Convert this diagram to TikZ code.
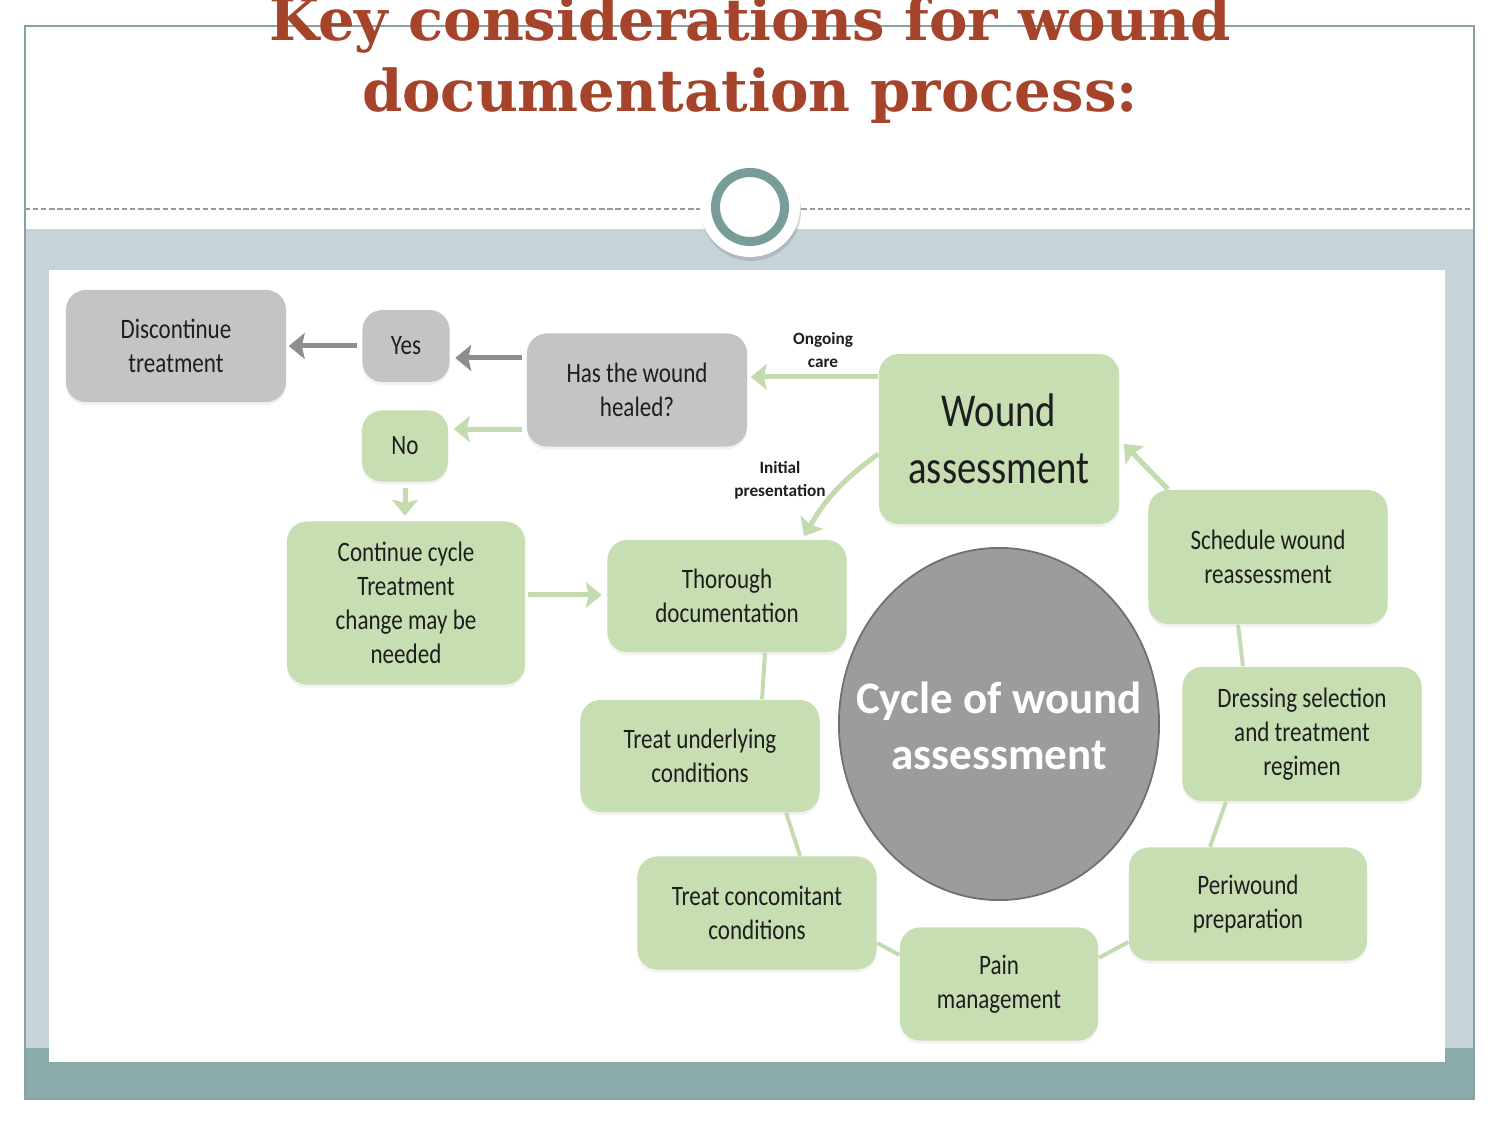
\documentclass[tikz,border=0pt]{standalone}
\usepackage{fontspec}
\setmainfont{Carlito}
\newfontfamily\titlefont{DejaVu Serif}
\newfontfamily\dfont[FakeStretch=0.82]{Carlito}
\usetikzlibrary{arrows.meta,shadows,shapes.geometric,calc}
\definecolor{titlered}{HTML}{A5432B}
\definecolor{boxgreen}{HTML}{C6DEB1}
\definecolor{linegreen}{HTML}{C3DBAE}
\definecolor{boxgray}{HTML}{C4C4C4}
\definecolor{arrowgray}{HTML}{8E8E8E}
\definecolor{circgray}{HTML}{9C9C9C}
\definecolor{circedge}{HTML}{6F6F6F}
\definecolor{bandlight}{HTML}{C6D4D9}
\definecolor{banddark}{HTML}{8BABAB}
\definecolor{framec}{HTML}{86A2A2}
\definecolor{ringc}{HTML}{789C98}
\definecolor{txt}{HTML}{1E1E1E}
\tikzset{
  box/.style={rounded corners=0.2cm, align=center, inner sep=0pt, text=txt,
    font=\dfont\fontsize{8}{9.7}\selectfont,
    drop shadow={shadow xshift=0pt, shadow yshift=-0.03cm, opacity=0.1}},
  gbox/.style={box, fill=boxgreen},
  ybox/.style={box, fill=boxgray},
  grayarrow/.style={draw=arrowgray, line width=0.05cm,
    -{Stealth[length=0.16cm, width=0.26cm, inset=0.03cm]}},
  greenarrow/.style={draw=linegreen, line width=0.05cm,
    -{Stealth[length=0.16cm, width=0.26cm, inset=0.03cm]}},
  cycline/.style={draw=linegreen, line width=0.04cm},
  lbl/.style={font=\fontsize{4.9}{6.5}\selectfont\bfseries, text=txt, align=center, inner sep=0pt}
}
\begin{document}
\begin{tikzpicture}[x=0.01cm, y=-0.01cm]
\useasboundingbox (0,0) rectangle (1500,1125);
\fill[white] (0,0) rectangle (1500,1125);
% slide frame
\fill[bandlight] (25,229) rectangle (1474,1048);
\fill[banddark] (25,1048) rectangle (1474,1099);
\draw[framec, line width=0.6pt] (25,26) rectangle (1474,1099);
\draw[gray!80, line width=0.4pt, dash pattern=on 1.5pt off 0.8pt] (25,209) -- (1474,209);
% ornament
\fill[white, drop shadow={shadow xshift=0.01cm, shadow yshift=-0.04cm, opacity=0.3}] (750,207) circle (0.5cm);
\draw[ringc, line width=0.09cm] (750,207) circle (0.345cm);
% picture area
\fill[white] (49,270) rectangle (1445,1062);
% title
\node[anchor=base, font=\titlefont\bfseries\fontsize{16.4}{20}\selectfont, text=titlered, inner sep=0pt] (t1) at (750,41) {Key considerations for wound};
\node[anchor=base, font=\titlefont\bfseries\fontsize{16.4}{20}\selectfont, text=titlered, inner sep=0pt] (t2) at (750,112) {documentation process:};
% nodes
\node[ybox, minimum width=2.20cm, minimum height=1.12cm] (disc) at (176,346) {Discontinue\\treatment};
\node[ybox, minimum width=0.87cm, minimum height=0.72cm] (yes) at (406,346) {Yes};
\node[gbox, minimum width=0.86cm, minimum height=0.71cm] (no) at (405,446) {No};
\node[ybox, minimum width=2.20cm, minimum height=1.13cm] (heal) at (637,390) {Has the wound\\healed?};
\node[gbox, minimum width=2.40cm, minimum height=1.70cm, font=\dfont\fontsize{13.4}{16.2}\selectfont] (wa) at (999,439) {Wound\\assessment};
\node[gbox, minimum width=2.38cm, minimum height=1.63cm] (cont) at (406,603) {Continue cycle\\Treatment\\change may be\\needed};
\node[gbox, minimum width=2.39cm, minimum height=1.12cm] (thor) at (727,596) {Thorough\\documentation};
\node[gbox, minimum width=2.39cm, minimum height=1.34cm] (sched) at (1268,557) {Schedule wound\\reassessment};
\node[gbox, minimum width=2.39cm, minimum height=1.34cm] (dress) at (1302,734) {Dressing selection\\and treatment\\regimen};
\node[gbox, minimum width=2.38cm, minimum height=1.13cm] (peri) at (1248,904) {Periwound\\preparation};
\node[gbox, minimum width=1.98cm, minimum height=1.13cm] (pain) at (999,984) {Pain\\management};
\node[gbox, minimum width=2.39cm, minimum height=1.13cm] (conc) at (757,913) {Treat concomitant\\conditions};
\node[gbox, minimum width=2.39cm, minimum height=1.12cm] (under) at (700,756) {Treat underlying\\conditions};
\fill[circgray, draw=circedge, line width=0.5pt] (999,724) ellipse [x radius=1.60cm, y radius=1.76cm];
\node[inner sep=0pt, align=center, text=white, font=\fontsize{12.8}{15.9}\selectfont\bfseries] (cyc) at (999,726) {Cycle of wound\\assessment};
% flow arrows
\draw[grayarrow, shorten <=0.05cm, shorten >=0.02cm] (yes.west) -- (disc.east);
\coordinate (hy) at ([yshift=0.32cm, xshift=-0.04cm]heal.west);
\draw[grayarrow, shorten >=0.05cm] (hy) -- (hy -| yes.east);
\coordinate (hn) at ([yshift=-0.39cm, xshift=-0.04cm]heal.west);
\draw[greenarrow, shorten >=0.05cm] (hn) -- (hn -| no.east);
\draw[greenarrow, shorten <=0.06cm, shorten >=0.05cm] (no.south) -- (no.south |- cont.north);
\coordinate (ct) at ([yshift=0.08cm, xshift=0.02cm]cont.east);
\draw[greenarrow, shorten >=0.05cm] (ct) -- (ct -| thor.west);
\coordinate (wo) at ([yshift=0.62cm]wa.west);
\draw[greenarrow, shorten >=0.03cm] (wo) -- (wo -| heal.east);
\node[lbl] (ong) at (823,350) {Ongoing\\care};
\draw[greenarrow] ([yshift=-0.15cm]wa.west) to[bend right=12] ([xshift=0.77cm, yshift=0.03cm]thor.north);
\node[lbl] (ini) at (780,480) {Initial\\presentation};
\draw[greenarrow] ([xshift=-1.0cm]sched.north) -- ([xshift=0.04cm, yshift=-0.05cm]wa.east);
% cycle connectors
\draw[cycline] ([xshift=-0.30cm]sched.south) -- ([xshift=-0.59cm]dress.north);
\draw[cycline] ([xshift=-0.76cm]dress.south) -- ([xshift=-0.38cm]peri.north);
\draw[cycline] ([yshift=-0.38cm]peri.west) -- ([yshift=0.26cm]pain.east);
\draw[cycline] ([yshift=0.29cm]pain.west) -- ([yshift=-0.30cm]conc.east);
\draw[cycline] ([xshift=0.43cm]conc.north) -- ([xshift=0.86cm]under.south);
\draw[cycline] ([xshift=0.62cm]under.north) -- ([xshift=0.38cm]thor.south);
\end{tikzpicture}
\end{document}
